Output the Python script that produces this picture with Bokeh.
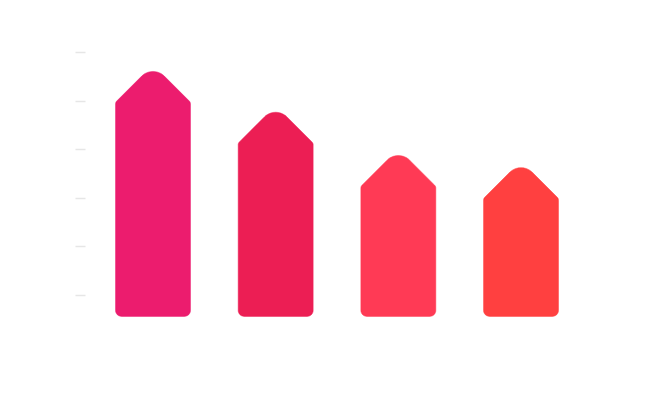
import math
from bokeh.plotting import figure
from bokeh.models import FixedTicker, ColumnDataSource
from bokeh.embed import file_html
from bokeh.resources import INLINE

# ---- data ----
categories = ["A", "B", "C", "D"]
values = [46.1, 37.7, 28.8, 26.3]          # top of each arrow bar
colors = ["#EC1C6E", "#EC1E54", "#FF3A55", "#FF4040"]
tick_values = [0, 10, 20, 30, 40, 50]
tick_labels = ["", "", "", "", "", ""]

# ---- layout / style constants ----
BASE = -4.3            # bar base value
BAR_W = 0.611          # bar width in category units
SX = 122.67            # px per category unit
SY = 4.86              # px per value unit
R_BOTTOM, R_SHOULDER, R_APEX = 6.0, 4.0, 16.0


def rounded_polygon(pts, radii, n=10):
    out = []
    m = len(pts)
    for i in range(m):
        px, py = pts[i]
        ax, ay = pts[i - 1]
        bx, by = pts[(i + 1) % m]
        r = radii[i]
        u1 = (ax - px, ay - py); l1 = math.hypot(*u1); u1 = (u1[0] / l1, u1[1] / l1)
        u2 = (bx - px, by - py); l2 = math.hypot(*u2); u2 = (u2[0] / l2, u2[1] / l2)
        dot = max(-1.0, min(1.0, u1[0] * u2[0] + u1[1] * u2[1]))
        th = math.acos(dot)
        d = r / math.tan(th / 2)
        t1 = (px + u1[0] * d, py + u1[1] * d)
        t2 = (px + u2[0] * d, py + u2[1] * d)
        bis = (u1[0] + u2[0], u1[1] + u2[1]); lb = math.hypot(*bis); bis = (bis[0] / lb, bis[1] / lb)
        h = r / math.sin(th / 2)
        c = (px + bis[0] * h, py + bis[1] * h)
        a1 = math.atan2(t1[1] - c[1], t1[0] - c[0])
        a2 = math.atan2(t2[1] - c[1], t2[0] - c[0])
        da = a2 - a1
        while da > math.pi:
            da -= 2 * math.pi
        while da < -math.pi:
            da += 2 * math.pi
        for k in range(n + 1):
            a = a1 + da * k / n
            out.append((c[0] + r * math.cos(a), c[1] + r * math.sin(a)))
    return out


xs, ys = [], []
for i, v in enumerate(values):
    X0 = i * SX
    hw = BAR_W * SX / 2
    Yb = BASE * SY
    Ya = v * SY + (math.sqrt(2) - 1) * R_APEX
    Ys = Ya - hw
    pts = [(X0 - hw, Yb), (X0 + hw, Yb), (X0 + hw, Ys), (X0, Ya), (X0 - hw, Ys)]
    rp = rounded_polygon(pts, [R_BOTTOM, R_BOTTOM, R_SHOULDER, R_APEX, R_SHOULDER])
    xs.append([p[0] / SX for p in rp])
    ys.append([p[1] / SY for p in rp])

src = ColumnDataSource(dict(xs=xs, ys=ys, color=colors, cat=categories))

p = figure(
    output_backend="svg", toolbar_location=None,
    frame_width=515, frame_height=320,
    min_border_left=85, min_border_top=20, min_border_right=30, min_border_bottom=30,
    x_range=(-0.5503, 3.648), y_range=(-9.259, 56.58),
    x_axis_location=None,
)
p.patches("xs", "ys", source=src, fill_color="color", line_color="color", line_width=0.5)

p.yaxis.ticker = FixedTicker(ticks=tick_values)
p.yaxis.major_label_overrides = {t: l for t, l in zip(tick_values, tick_labels)}
p.yaxis.major_label_text_color = None
p.yaxis.axis_line_color = None
p.yaxis.minor_tick_line_color = None
p.yaxis.major_tick_in = 0
p.yaxis.major_tick_out = 10
p.yaxis.major_tick_line_color = "#E6E6E6"
p.yaxis.major_tick_line_width = 1.5
p.xgrid.grid_line_color = None
p.ygrid.grid_line_color = None
p.outline_line_color = None
p.background_fill_color = "white"
p.border_fill_color = "white"

open("out.html", "w").write(file_html(p, INLINE))
